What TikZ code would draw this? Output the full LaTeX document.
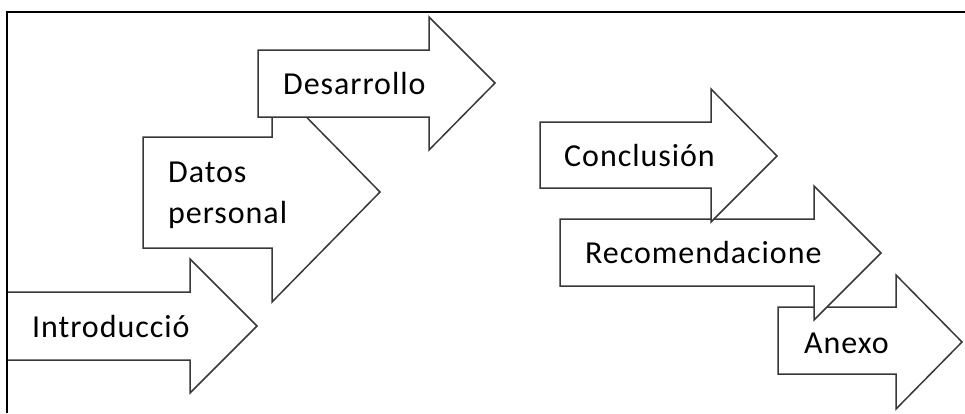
\documentclass[tikz,border=0pt]{standalone}
\usepackage{fontspec}
\setmainfont{Carlito}[LetterSpace=3]
\begin{document}
\begin{tikzpicture}[x=1pt,y=-1pt,
  arr/.style={draw=black!78,fill=white,line width=1.5pt,line join=miter},
  lbl/.style={anchor=base west,inner sep=0pt,font=\fontsize{32}{41}\selectfont,text=black},
  frame/.style={draw=black,line width=2pt}]
\useasboundingbox (0,0) rectangle (965,413);
% frame (top and left edges)
\draw[frame] (965,12) -- (7,12) -- (7,413);
% arrows (back to front)
\filldraw[arr] (778,307) -- (896,307) -- (896,275) -- (962,342) -- (896,409) -- (896,374) -- (778,374) -- cycle;
\filldraw[arr] (560,219) -- (814,219) -- (814,186) -- (881,253) -- (814,320) -- (814,286) -- (560,286) -- cycle;
\filldraw[arr] (540,122) -- (711,122) -- (711,89) -- (777,156) -- (711,222) -- (711,188) -- (540,188) -- cycle;
\filldraw[arr] (143,137) -- (272,137) -- (272,82) -- (380,192) -- (272,302) -- (272,248) -- (143,248) -- cycle;
\filldraw[arr] (258,50) -- (429,50) -- (429,17) -- (495,83) -- (429,150) -- (429,117) -- (258,117) -- cycle;
\filldraw[arr] (7,292) -- (190,292) -- (190,259) -- (257,326) -- (190,393) -- (190,360) -- (7,360) -- cycle;
\draw[frame] (7,250) -- (7,413);
% labels
\node[lbl] (intro) at (32,337) {Introducció};
\node[lbl] (datos) at (168,182) {Datos};
\node[lbl] (personal) at (168,223) {personal};
\node[lbl] (desarrollo) at (283,94) {Desarrollo};
\node[lbl] (conclusion) at (564,166) {Conclusión};
\node[lbl] (recom) at (585,263) {Recomendacione};
\node[lbl] (anexo) at (804,353) {Anexo};
\end{tikzpicture}
\end{document}
